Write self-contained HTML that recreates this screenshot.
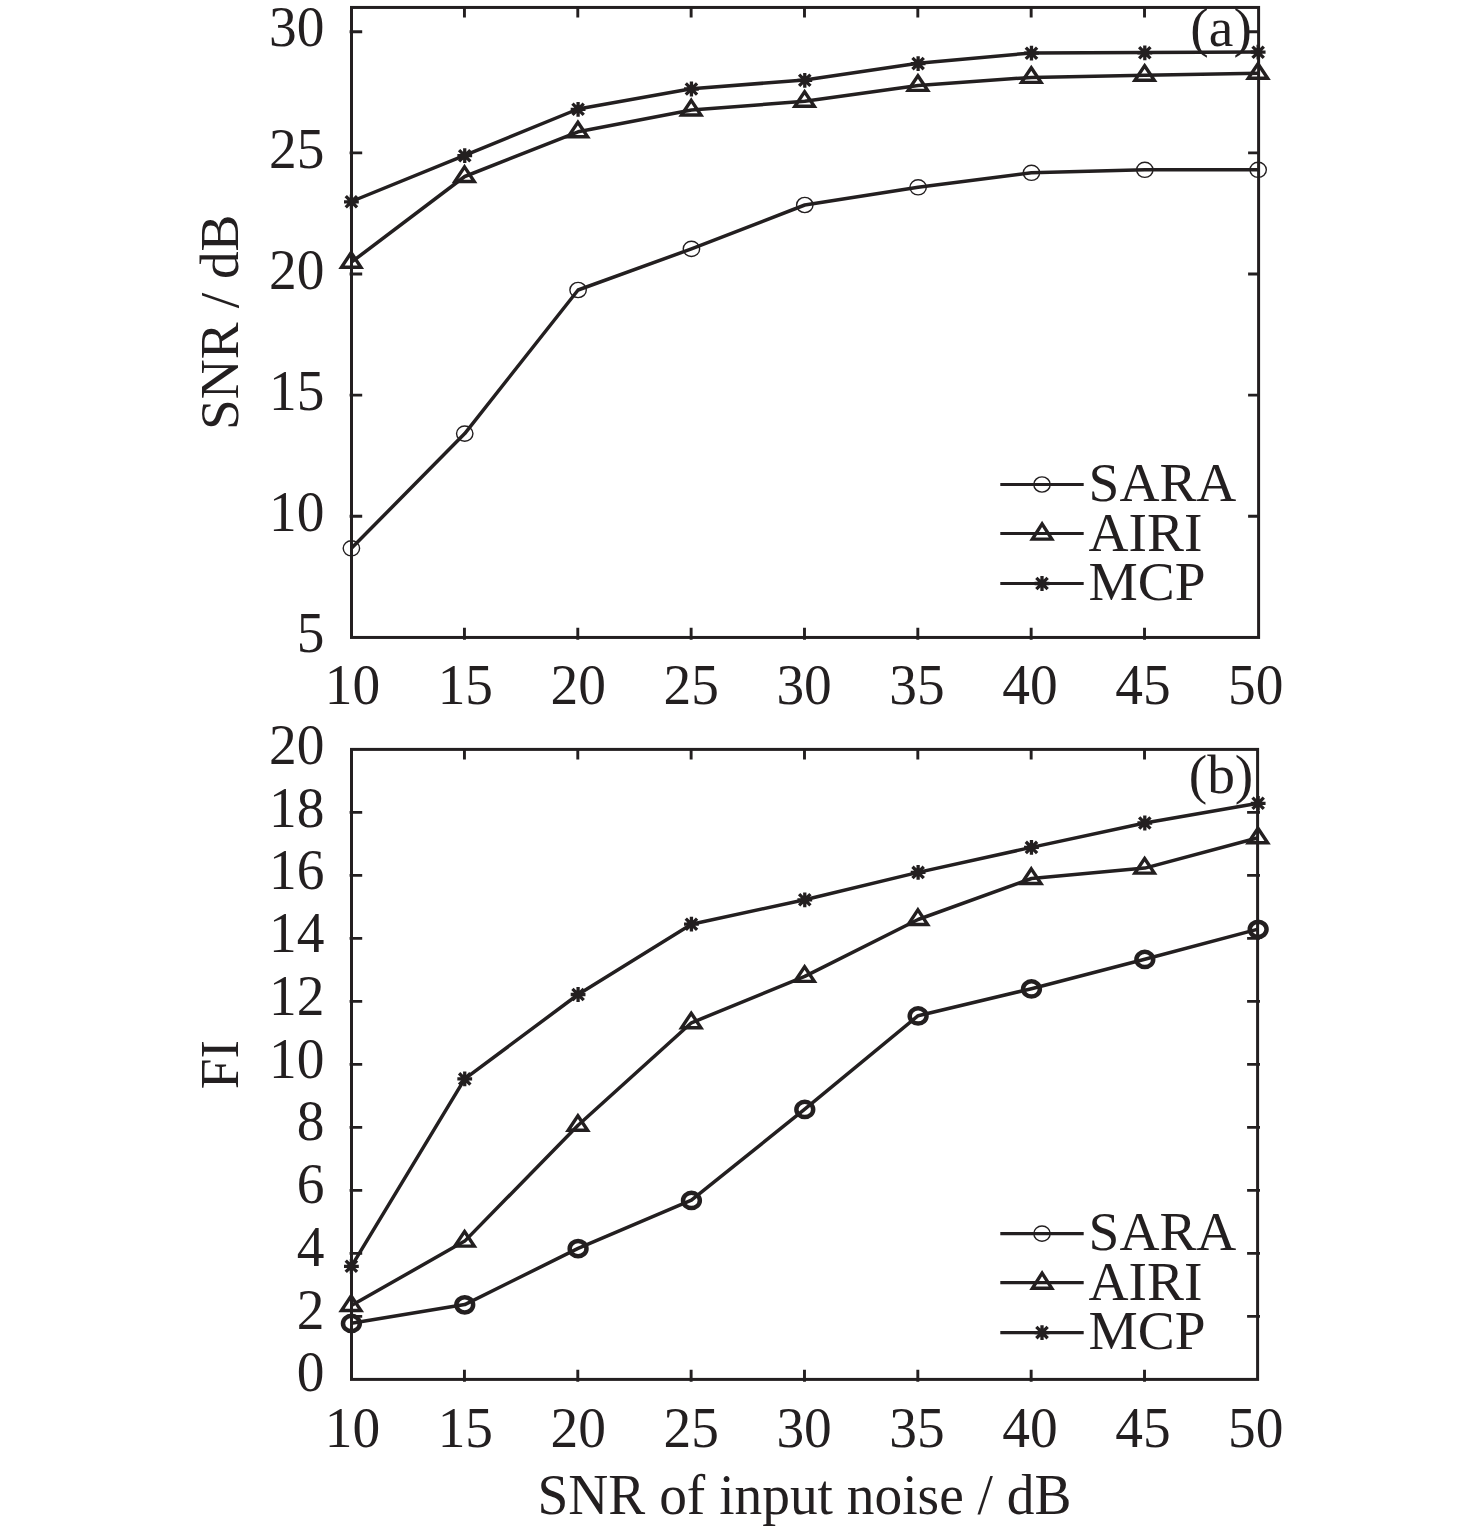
<!DOCTYPE html>
<html lang="en"><head><meta charset="utf-8"><title>SNR and FI versus SNR of input noise</title>
<style>html,body{margin:0;padding:0;background:#fff}body{width:1476px;height:1531px;overflow:hidden}svg{display:block}text{font-family:"Liberation Serif","Times New Roman",Times,serif;font-size:55.4px;fill:#231f20;stroke:none}</style></head><body>
<svg width="1476" height="1531" viewBox="0 0 1476 1531" fill="none" stroke="#231f20" stroke-linecap="butt">
<rect x="0" y="0" width="1476" height="1531" fill="#fff" stroke="none"/>
<g id="plot-a">
<rect x="351.5" y="7.45" width="907.1" height="630" stroke-width="3.0"/>
<path d="M464.44 639.75V627.85M464.44 7.15V17.55M577.79 639.75V627.85M577.79 7.15V17.55M691.13 639.75V627.85M691.13 7.15V17.55M804.48 639.75V627.85M804.48 7.15V17.55M917.82 639.75V627.85M917.82 7.15V17.55M1031.16 639.75V627.85M1031.16 7.15V17.55M1144.51 639.75V627.85M1144.51 7.15V17.55M349.6 516.3H362.2M1259.1 516.3H1248.1M349.6 395.14H362.2M1259.1 395.14H1248.1M349.6 273.99H362.2M1259.1 273.99H1248.1M349.6 152.83H362.2M1259.1 152.83H1248.1M349.6 31.68H362.2M1259.1 31.68H1248.1" stroke-width="2.9"/>
<polyline points="351.4,548.3 464.74,433.6 578.09,290 691.43,248.9 804.78,205 918.12,187.3 1031.46,172.8 1144.81,169.8 1258.15,169.8" stroke-width="3.5" stroke-linejoin="round"/>
<polyline points="351.4,262.2 464.74,176.5 578.09,131.8 691.43,110 804.78,101.3 918.12,85.4 1031.46,77.4 1144.81,75.3 1258.15,73.3" stroke-width="3.5" stroke-linejoin="round"/>
<polyline points="351.4,201.5 464.74,155.4 578.09,109 691.43,88.7 804.78,80 918.12,63.3 1031.46,52.9 1144.81,52.5 1258.15,51.9" stroke-width="3.5" stroke-linejoin="round"/>
<ellipse cx="351.4" cy="548.3" rx="8.2" ry="7.6" stroke-width="1.4"/>
<ellipse cx="464.74" cy="433.6" rx="8.2" ry="7.6" stroke-width="1.4"/>
<ellipse cx="578.09" cy="290" rx="8.2" ry="7.6" stroke-width="1.4"/>
<ellipse cx="691.43" cy="248.9" rx="8.2" ry="7.6" stroke-width="1.4"/>
<ellipse cx="804.78" cy="205" rx="8.2" ry="7.6" stroke-width="1.4"/>
<ellipse cx="918.12" cy="187.3" rx="8.2" ry="7.6" stroke-width="1.4"/>
<ellipse cx="1031.46" cy="172.8" rx="8.2" ry="7.6" stroke-width="1.4"/>
<ellipse cx="1144.81" cy="169.8" rx="8.2" ry="7.6" stroke-width="1.4"/>
<ellipse cx="1258.15" cy="169.8" rx="8.2" ry="7.6" stroke-width="1.4"/>
<path d="M351.2 252.6L360.9 267.2H341.5Z" stroke-width="3.4" stroke-linejoin="miter"/>
<path d="M464.54 166.9L474.24 181.5H454.84Z" stroke-width="3.4" stroke-linejoin="miter"/>
<path d="M577.89 122.2L587.59 136.8H568.19Z" stroke-width="3.4" stroke-linejoin="miter"/>
<path d="M691.23 100.4L700.93 115H681.53Z" stroke-width="3.4" stroke-linejoin="miter"/>
<path d="M804.58 91.7L814.28 106.3H794.88Z" stroke-width="3.4" stroke-linejoin="miter"/>
<path d="M917.92 75.8L927.62 90.4H908.22Z" stroke-width="3.4" stroke-linejoin="miter"/>
<path d="M1031.26 67.8L1040.96 82.4H1021.56Z" stroke-width="3.4" stroke-linejoin="miter"/>
<path d="M1144.61 65.7L1154.31 80.3H1134.91Z" stroke-width="3.4" stroke-linejoin="miter"/>
<path d="M1257.95 63.7L1267.65 78.3H1248.25Z" stroke-width="3.4" stroke-linejoin="miter"/>
<path d="M344 201.8H358.8M351.4 194.4V209.2M345.75 196.15L357.05 207.45M345.75 207.45L357.05 196.15" stroke-width="3.3"/>
<path d="M457.34 155.7H472.14M464.74 148.3V163.1M459.09 150.05L470.39 161.35M459.09 161.35L470.39 150.05" stroke-width="3.3"/>
<path d="M570.69 109.3H585.49M578.09 101.9V116.7M572.44 103.65L583.74 114.95M572.44 114.95L583.74 103.65" stroke-width="3.3"/>
<path d="M684.03 89H698.83M691.43 81.6V96.4M685.78 83.35L697.08 94.65M685.78 94.65L697.08 83.35" stroke-width="3.3"/>
<path d="M797.38 80.3H812.18M804.78 72.9V87.7M799.12 74.65L810.43 85.95M799.12 85.95L810.43 74.65" stroke-width="3.3"/>
<path d="M910.72 63.6H925.52M918.12 56.2V71M912.47 57.95L923.77 69.25M912.47 69.25L923.77 57.95" stroke-width="3.3"/>
<path d="M1024.06 53.2H1038.86M1031.46 45.8V60.6M1025.81 47.55L1037.11 58.85M1025.81 58.85L1037.11 47.55" stroke-width="3.3"/>
<path d="M1137.41 52.8H1152.21M1144.81 45.4V60.2M1139.16 47.15L1150.46 58.45M1139.16 58.45L1150.46 47.15" stroke-width="3.3"/>
<path d="M1250.75 52.2H1265.55M1258.15 44.8V59.6M1252.5 46.55L1263.8 57.85M1252.5 57.85L1263.8 46.55" stroke-width="3.3"/>
<text transform="translate(324.5 652.15) scale(1 1.02)" text-anchor="end">5</text>
<text transform="translate(324.5 531) scale(1 1.02)" text-anchor="end">10</text>
<text transform="translate(324.5 409.84) scale(1 1.02)" text-anchor="end">15</text>
<text transform="translate(324.5 288.69) scale(1 1.02)" text-anchor="end">20</text>
<text transform="translate(324.5 167.53) scale(1 1.02)" text-anchor="end">25</text>
<text transform="translate(324.5 46.38) scale(1 1.02)" text-anchor="end">30</text>
<text transform="translate(352.4 704.3) scale(1 1.02)" text-anchor="middle">10</text>
<text transform="translate(465.32 704.3) scale(1 1.02)" text-anchor="middle">15</text>
<text transform="translate(578.25 704.3) scale(1 1.02)" text-anchor="middle">20</text>
<text transform="translate(691.17 704.3) scale(1 1.02)" text-anchor="middle">25</text>
<text transform="translate(804.1 704.3) scale(1 1.02)" text-anchor="middle">30</text>
<text transform="translate(917.02 704.3) scale(1 1.02)" text-anchor="middle">35</text>
<text transform="translate(1029.95 704.3) scale(1 1.02)" text-anchor="middle">40</text>
<text transform="translate(1142.88 704.3) scale(1 1.02)" text-anchor="middle">45</text>
<text transform="translate(1255.8 704.3) scale(1 1.02)" text-anchor="middle">50</text>
<text transform="translate(1221.1 46.2) scale(1 1.0)" text-anchor="middle">(a)</text>
<text transform="translate(237.6 322.2) rotate(-90) scale(1 1.0)" text-anchor="middle">SNR / dB</text>
<path d="M1000.3 484.5H1083.7" stroke-width="3.2"/>
<ellipse cx="1042" cy="484.5" rx="8.2" ry="7.6" stroke-width="1.4"/>
<text transform="translate(1088.6 501) scale(1 1.0)" text-anchor="start">SARA</text>
<path d="M1000.3 533.5H1083.7" stroke-width="3.2"/>
<path d="M1042.1 523.9L1051.8 539.1H1032.4Z" stroke-width="3.4" stroke-linejoin="miter"/>
<text transform="translate(1088.6 550.6) scale(1 1.0)" text-anchor="start">AIRI</text>
<path d="M1000.3 583.5H1083.7" stroke-width="3.2"/>
<path d="M1034.6 583.5H1049.4M1042 576.1V590.9M1036.35 577.85L1047.65 589.15M1036.35 589.15L1047.65 577.85" stroke-width="3.3"/>
<text transform="translate(1088.6 599.8) scale(1 1.0)" text-anchor="start">MCP</text>
</g>
<g id="plot-b">
<rect x="351.5" y="749.4" width="906.1" height="630" stroke-width="3.0"/>
<path d="M464.44 1381.7V1369.8M464.44 749.1V759.5M577.79 1381.7V1369.8M577.79 749.1V759.5M691.13 1381.7V1369.8M691.13 749.1V759.5M804.48 1381.7V1369.8M804.48 749.1V759.5M917.82 1381.7V1369.8M917.82 749.1V759.5M1031.16 1381.7V1369.8M1031.16 749.1V759.5M1144.51 1381.7V1369.8M1144.51 749.1V759.5M349.6 1316.4H362.2M1260 1316.4H1247.1M349.6 1253.4H362.2M1260 1253.4H1247.1M349.6 1190.4H362.2M1260 1190.4H1247.1M349.6 1127.4H362.2M1260 1127.4H1247.1M349.6 1064.4H362.2M1260 1064.4H1247.1M349.6 1001.4H362.2M1260 1001.4H1247.1M349.6 938.4H362.2M1260 938.4H1247.1M349.6 875.4H362.2M1260 875.4H1247.1M349.6 812.4H362.2M1260 812.4H1247.1" stroke-width="2.9"/>
<polyline points="351.4,1323.2 464.74,1304.6 578.09,1248.4 691.43,1200.2 804.78,1109.2 918.12,1015.7 1031.46,988.7 1144.81,959.2 1258.15,929.1" stroke-width="3.5" stroke-linejoin="round"/>
<polyline points="351.4,1305.5 464.74,1241.1 578.09,1125.3 691.43,1022.8 804.78,976.4 918.12,919.5 1031.46,878.5 1144.81,868.1 1258.15,837.8" stroke-width="3.5" stroke-linejoin="round"/>
<polyline points="351.4,1266.3 464.74,1078.9 578.09,994.5 691.43,924.2 804.78,899.8 918.12,872.4 1031.46,847.4 1144.81,823 1258.15,803.3" stroke-width="3.5" stroke-linejoin="round"/>
<ellipse cx="351.4" cy="1323.45" rx="8.4" ry="7.6" stroke-width="4.5"/>
<ellipse cx="464.74" cy="1304.85" rx="8.4" ry="7.6" stroke-width="4.5"/>
<ellipse cx="578.09" cy="1248.65" rx="8.4" ry="7.6" stroke-width="4.5"/>
<ellipse cx="691.43" cy="1200.45" rx="8.4" ry="7.6" stroke-width="4.5"/>
<ellipse cx="804.78" cy="1109.45" rx="8.4" ry="7.6" stroke-width="4.5"/>
<ellipse cx="918.12" cy="1015.95" rx="8.4" ry="7.6" stroke-width="4.5"/>
<ellipse cx="1031.46" cy="988.95" rx="8.4" ry="7.6" stroke-width="4.5"/>
<ellipse cx="1144.81" cy="959.45" rx="8.4" ry="7.6" stroke-width="4.5"/>
<ellipse cx="1258.15" cy="929.35" rx="8.4" ry="7.6" stroke-width="4.5"/>
<path d="M351.2 1295.9L360.9 1310.5H341.5Z" stroke-width="3.4" stroke-linejoin="miter"/>
<path d="M464.54 1231.5L474.24 1246.1H454.84Z" stroke-width="3.4" stroke-linejoin="miter"/>
<path d="M577.89 1115.7L587.59 1130.3H568.19Z" stroke-width="3.4" stroke-linejoin="miter"/>
<path d="M691.23 1013.2L700.93 1027.8H681.53Z" stroke-width="3.4" stroke-linejoin="miter"/>
<path d="M804.58 966.8L814.28 981.4H794.88Z" stroke-width="3.4" stroke-linejoin="miter"/>
<path d="M917.92 909.9L927.62 924.5H908.22Z" stroke-width="3.4" stroke-linejoin="miter"/>
<path d="M1031.26 868.9L1040.96 883.5H1021.56Z" stroke-width="3.4" stroke-linejoin="miter"/>
<path d="M1144.61 858.5L1154.31 873.1H1134.91Z" stroke-width="3.4" stroke-linejoin="miter"/>
<path d="M1257.95 828.2L1267.65 842.8H1248.25Z" stroke-width="3.4" stroke-linejoin="miter"/>
<path d="M344 1266.3H358.8M351.4 1258.9V1273.7M345.75 1260.65L357.05 1271.95M345.75 1271.95L357.05 1260.65" stroke-width="3.3"/>
<path d="M457.34 1078.9H472.14M464.74 1071.5V1086.3M459.09 1073.25L470.39 1084.55M459.09 1084.55L470.39 1073.25" stroke-width="3.3"/>
<path d="M570.69 994.5H585.49M578.09 987.1V1001.9M572.44 988.85L583.74 1000.15M572.44 1000.15L583.74 988.85" stroke-width="3.3"/>
<path d="M684.03 924.2H698.83M691.43 916.8V931.6M685.78 918.55L697.08 929.85M685.78 929.85L697.08 918.55" stroke-width="3.3"/>
<path d="M797.38 899.8H812.18M804.78 892.4V907.2M799.12 894.15L810.43 905.45M799.12 905.45L810.43 894.15" stroke-width="3.3"/>
<path d="M910.72 872.4H925.52M918.12 865V879.8M912.47 866.75L923.77 878.05M912.47 878.05L923.77 866.75" stroke-width="3.3"/>
<path d="M1024.06 847.4H1038.86M1031.46 840V854.8M1025.81 841.75L1037.11 853.05M1025.81 853.05L1037.11 841.75" stroke-width="3.3"/>
<path d="M1137.41 823H1152.21M1144.81 815.6V830.4M1139.16 817.35L1150.46 828.65M1139.16 828.65L1150.46 817.35" stroke-width="3.3"/>
<path d="M1250.75 803.3H1265.55M1258.15 795.9V810.7M1252.5 797.65L1263.8 808.95M1252.5 808.95L1263.8 797.65" stroke-width="3.3"/>
<text transform="translate(324.5 1391.3) scale(1 1.02)" text-anchor="end">0</text>
<text transform="translate(324.5 1328.57) scale(1 1.02)" text-anchor="end">2</text>
<text transform="translate(324.5 1265.84) scale(1 1.02)" text-anchor="end">4</text>
<text transform="translate(324.5 1203.11) scale(1 1.02)" text-anchor="end">6</text>
<text transform="translate(324.5 1140.38) scale(1 1.02)" text-anchor="end">8</text>
<text transform="translate(324.5 1077.65) scale(1 1.02)" text-anchor="end">10</text>
<text transform="translate(324.5 1014.92) scale(1 1.02)" text-anchor="end">12</text>
<text transform="translate(324.5 952.19) scale(1 1.02)" text-anchor="end">14</text>
<text transform="translate(324.5 889.46) scale(1 1.02)" text-anchor="end">16</text>
<text transform="translate(324.5 826.73) scale(1 1.02)" text-anchor="end">18</text>
<text transform="translate(324.5 764) scale(1 1.02)" text-anchor="end">20</text>
<text transform="translate(352.4 1447.3) scale(1 1.02)" text-anchor="middle">10</text>
<text transform="translate(465.32 1447.3) scale(1 1.02)" text-anchor="middle">15</text>
<text transform="translate(578.25 1447.3) scale(1 1.02)" text-anchor="middle">20</text>
<text transform="translate(691.17 1447.3) scale(1 1.02)" text-anchor="middle">25</text>
<text transform="translate(804.1 1447.3) scale(1 1.02)" text-anchor="middle">30</text>
<text transform="translate(917.02 1447.3) scale(1 1.02)" text-anchor="middle">35</text>
<text transform="translate(1029.95 1447.3) scale(1 1.02)" text-anchor="middle">40</text>
<text transform="translate(1142.88 1447.3) scale(1 1.02)" text-anchor="middle">45</text>
<text transform="translate(1255.8 1447.3) scale(1 1.02)" text-anchor="middle">50</text>
<text transform="translate(1221 792.8) scale(1 1.0)" text-anchor="middle">(b)</text>
<text transform="translate(238.2 1064.7) rotate(-90) scale(1 1.0)" text-anchor="middle">FI</text>
<path d="M1000.3 1233.6H1083.7" stroke-width="3.2"/>
<ellipse cx="1042" cy="1233.6" rx="8.2" ry="7.6" stroke-width="1.4"/>
<text transform="translate(1088.6 1250) scale(1 1.0)" text-anchor="start">SARA</text>
<path d="M1000.3 1282.7H1083.7" stroke-width="3.2"/>
<path d="M1042.1 1273.1L1051.8 1288.3H1032.4Z" stroke-width="3.4" stroke-linejoin="miter"/>
<text transform="translate(1088.6 1300.2) scale(1 1.0)" text-anchor="start">AIRI</text>
<path d="M1000.3 1332.6H1083.7" stroke-width="3.2"/>
<path d="M1034.6 1332.6H1049.4M1042 1325.2V1340M1036.35 1326.95L1047.65 1338.25M1036.35 1338.25L1047.65 1326.95" stroke-width="3.3"/>
<text transform="translate(1088.6 1349.4) scale(1 1.0)" text-anchor="start">MCP</text>
</g>
<text transform="translate(804.5 1513.8) scale(1 1.012)" text-anchor="middle">SNR of input noise / dB</text>
</svg></body></html>
